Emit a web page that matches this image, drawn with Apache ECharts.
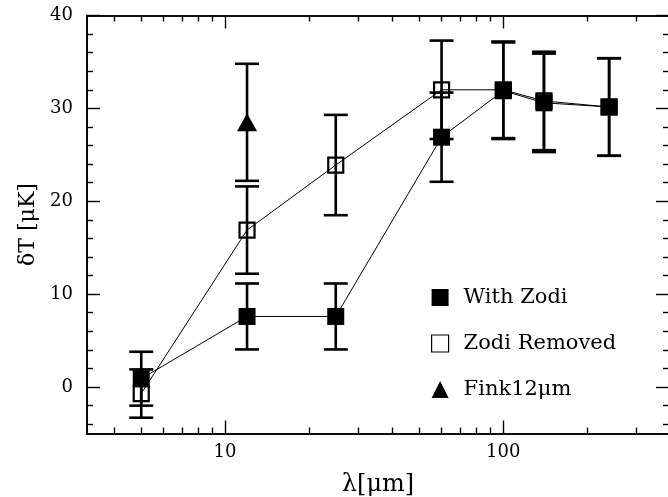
<!DOCTYPE html>
<html>
<head>
<meta charset="utf-8">
<title>δT vs λ</title>
<script src="https://cdn.jsdelivr.net/npm/echarts@6/dist/echarts.min.js"></script>
<style>
  html, body { margin: 0; padding: 0; background: #fff; }
  #chart { width: 668px; height: 497px; }
</style>
</head>
<body>
<div id="chart"></div>
<script>
// DIRBE band wavelengths (μm) and measured δT (μK) with 1σ errors
const wavelengths = [5, 12, 25, 60, 100, 140, 240];
const withZodi = [0.9, 7.6, 7.6, 26.9, 31.9, 30.6, 30.15];
const withZodiErr = [2.9, 3.55, 3.55, 4.8, 5.2, 5.3, 5.25];
const zodiRemoved = [-0.7, 16.9, 23.9, 32.0, 32.0, 30.8, 30.15];
const zodiRemovedErr = [2.6, 4.7, 5.4, 5.3, 5.2, 5.3, 5.25];
const finkWavelength = [12];
const fink = [28.5];
const finkErr = [6.3];

// Axis ticks
const xMajorTicks = [10, 100];
const xMinorTicks = [4, 5, 6, 7, 8, 9, 20, 30, 40, 50, 60, 70, 80, 90, 200, 300];
const yMajorTicks = [0, 10, 20, 30, 40];
const yMinorTicks = [-4, -2, 2, 4, 6, 8, 12, 14, 16, 18, 22, 24, 26, 28, 32, 34, 36, 38];

const seriesNames = ['With Zodi', 'Zodi Removed', 'Fink12μm'];

// The x axis is laid out in log10(λ)
const lg = Math.log10;
const X_MIN = 0.5041, X_MAX = 2.5954;
const Y_MIN = -5, Y_MAX = 40;

const INK = '#000';
const SERIF = 'DejaVu Serif';

function pts(xs, ys) { return xs.map((x, i) => [lg(x), ys[i]]); }
function errData(xs, ys, es) { return xs.map((x, i) => [lg(x), ys[i] - es[i], ys[i] + es[i]]); }

function errorBars(data) {
  return {
    type: 'custom',
    data: data,
    silent: true,
    encode: { x: 0, y: [1, 2] },
    renderItem: function (params, api) {
      const x = api.value(0);
      const lo = api.coord([x, api.value(1)]);
      const hi = api.coord([x, api.value(2)]);
      const w = 12;
      const style = { stroke: INK, lineWidth: 2.6 };
      return {
        type: 'group',
        children: [
          { type: 'line', shape: { x1: lo[0], y1: lo[1], x2: hi[0], y2: hi[1] }, style },
          { type: 'line', shape: { x1: lo[0] - w, y1: lo[1], x2: lo[0] + w, y2: lo[1] }, style },
          { type: 'line', shape: { x1: hi[0] - w, y1: hi[1], x2: hi[0] + w, y2: hi[1] }, style }
        ]
      };
    },
    z: 2
  };
}

function xAxis(position, ticks, len, labels, extra) {
  return Object.assign({
    type: 'value', position: position, min: X_MIN, max: X_MAX,
    axisLine: { show: true, onZero: false, lineStyle: { color: INK, width: 1.6 } },
    axisTick: { show: true, inside: true, length: len, lineStyle: { color: INK, width: 1.4 },
                customValues: ticks.map(lg) },
    axisLabel: labels ? {
      show: true, customValues: labels.map(lg), margin: 10,
      fontFamily: SERIF, fontSize: 18, color: INK,
      formatter: v => String(Math.round(Math.pow(10, v)))
    } : { show: false },
    splitLine: { show: false }
  }, extra || {});
}

function yAxis(position, ticks, len, labels, extra) {
  return Object.assign({
    type: 'value', position: position, min: Y_MIN, max: Y_MAX,
    axisLine: { show: true, onZero: false, lineStyle: { color: INK, width: 1.6 } },
    axisTick: { show: true, inside: true, length: len, lineStyle: { color: INK, width: 1.4 },
                customValues: ticks },
    axisLabel: labels ? {
      show: true, customValues: labels, margin: 14,
      fontFamily: SERIF, fontSize: 18, color: INK
    } : { show: false },
    splitLine: { show: false }
  }, extra || {});
}

const chart = echarts.init(document.getElementById('chart'), null, { renderer: 'canvas' });

chart.setOption({
  animation: false,
  backgroundColor: '#fff',
  grid: { left: 87, top: 15.5, width: 582, height: 418, containLabel: false, outerBoundsMode: 'none' },
  xAxis: [
    xAxis('bottom', xMajorTicks, 13, xMajorTicks, {
      name: 'λ[μm]', nameLocation: 'middle', nameGap: 39,
      nameTextStyle: { fontFamily: SERIF, fontSize: 24, color: INK }
    }),
    xAxis('bottom', xMinorTicks, 6, null),
    xAxis('top', xMajorTicks, 13, null),
    xAxis('top', xMinorTicks, 6, null)
  ],
  yAxis: [
    yAxis('left', yMajorTicks, 13, yMajorTicks, {
      name: 'δT [μK]', nameLocation: 'middle', nameGap: 48, nameRotate: 90,
      nameTextStyle: { fontFamily: SERIF, fontSize: 22, color: INK }
    }),
    yAxis('left', yMinorTicks, 6, null),
    yAxis('right', yMajorTicks, 13, null),
    yAxis('right', yMinorTicks, 6, null)
  ],
  legend: {
    orient: 'vertical',
    left: 426, top: 282,
    itemWidth: 17, itemHeight: 17, itemGap: 25,
    selectedMode: false,
    data: [
      { name: seriesNames[0], icon: 'rect' },
      { name: seriesNames[1], icon: 'rect', itemStyle: { borderWidth: 1.2 } },
      { name: seriesNames[2], icon: 'triangle' }
    ],
    textStyle: { fontFamily: SERIF, fontSize: 21, color: INK, padding: [0, 0, 0, 10] }
  },
  series: [
    errorBars(errData(wavelengths, zodiRemoved, zodiRemovedErr)),
    {
      name: seriesNames[1], type: 'line', data: pts(wavelengths, zodiRemoved),
      symbol: 'rect', symbolSize: 15, showSymbol: true,
      lineStyle: { color: INK, width: 1 },
      itemStyle: { color: 'rgba(255,255,255,0)', borderColor: INK, borderWidth: 2.2 },
      emphasis: { disabled: true }, z: 3
    },
    errorBars(errData(finkWavelength, fink, finkErr)),
    {
      name: seriesNames[2], type: 'scatter', data: pts(finkWavelength, fink),
      symbol: 'triangle', symbolSize: [20, 18],
      itemStyle: { color: INK, opacity: 1 },
      emphasis: { disabled: true }, z: 3
    },
    errorBars(errData(wavelengths, withZodi, withZodiErr)),
    {
      name: seriesNames[0], type: 'line', data: pts(wavelengths, withZodi),
      symbol: 'rect', symbolSize: 17, showSymbol: true,
      lineStyle: { color: INK, width: 1 },
      itemStyle: { color: INK },
      emphasis: { disabled: true }, z: 4
    }
  ]
});
</script>
</body>
</html>
